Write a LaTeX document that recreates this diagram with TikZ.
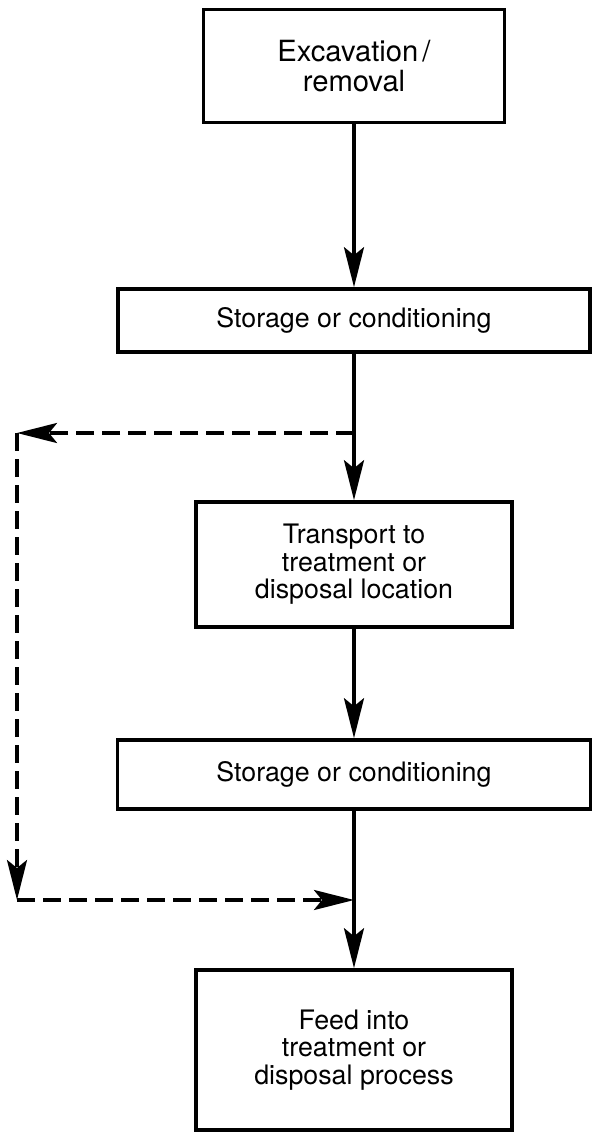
\documentclass[tikz,border=0pt]{standalone}
\usepackage{fontspec}
\setmainfont{TeX Gyre Heros}
\usetikzlibrary{arrows.meta}
\begin{document}
\begin{tikzpicture}[x=0.5pt, y=-0.5pt,
    box/.style={draw, line width=1.8pt, align=center, inner sep=0pt,
        font=\fontsize{13.4}{13.8}\selectfont},
    flow/.style={line width=1.8pt, -{Stealth[length=20pt, width=10pt, inset=4pt]}},
    bypass/.style={flow, dash pattern=on 9pt off 4pt}]
    % Fix the page size
    \useasboundingbox (0, 0) rectangle (599, 1141);

    % Draw the boxes
    \node[box, minimum width=150.5pt, minimum height=56.5pt,
        font=\fontsize{14.6}{15}\selectfont] (excav) at (354, 66) {Excavation\kern2pt/\\removal};
    \node[box, minimum width=236pt, minimum height=31.5pt] (store1) at (354, 320.5) {Storage or conditioning};
    \node[box, minimum width=158pt, minimum height=62.5pt] (transp) at (354, 564.5) {Transport to\\treatment or\\disposal location};
    \node[box, minimum width=236.5pt, minimum height=34.5pt] (store2) at (354, 774.5) {Storage or conditioning};
    \node[box, minimum width=158pt, minimum height=80pt] (feed) at (354, 1050) {Feed into\\treatment or\\disposal process};

    % Bypass corners
    \coordinate (j1) at (354, 433);
    \coordinate (c1) at (17, 433);
    \coordinate (c2) at (17, 900);
    \coordinate (j2) at (354, 900);

    % Draw main flow
    \draw[flow] (excav.south) -- (store1.north);
    \draw[flow] (store1.south) -- (transp.north);
    \draw[flow] (transp.south) -- (store2.north);
    \draw[flow] (store2.south) -- (feed.north);

    % Draw dashed bypass
    \draw[bypass] (j1) -- (c1);
    \draw[bypass] (c1) -- (c2);
    \draw[bypass] (c2) -- (j2);
\end{tikzpicture}
\end{document}
